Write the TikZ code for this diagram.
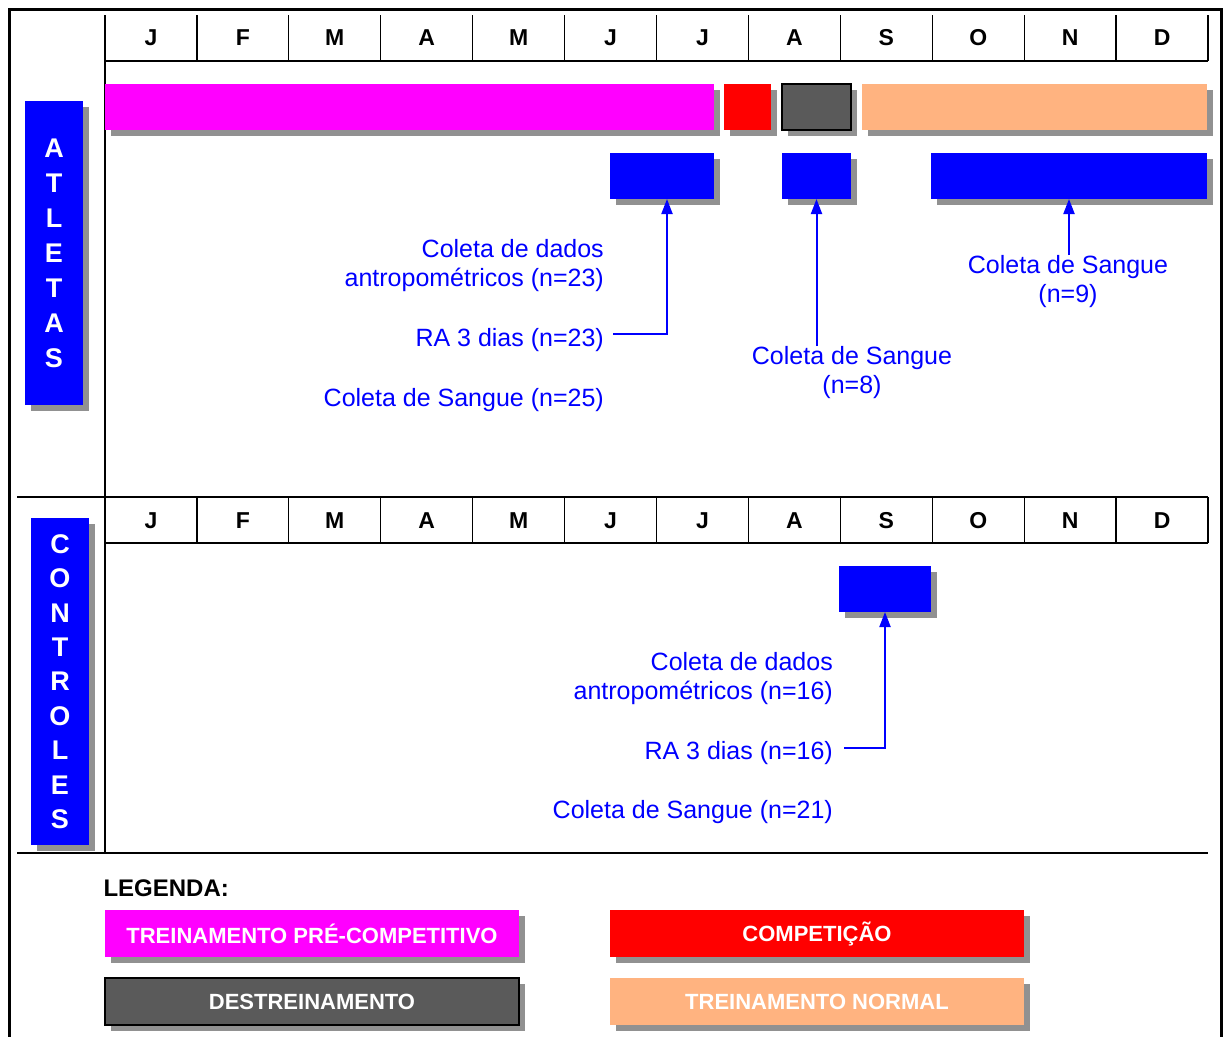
\documentclass[tikz,border=0pt]{standalone}
\usepackage{fontspec}
\setmainfont{Liberation Sans}
\usetikzlibrary{arrows.meta,shadows}
\definecolor{precompcol}{RGB}{255,0,255}
\definecolor{compcol}{RGB}{255,0,0}
\definecolor{destrcol}{RGB}{90,90,90}
\definecolor{normalcol}{RGB}{255,179,128}
\definecolor{coletacol}{RGB}{0,0,255}
\definecolor{shadecol}{RGB}{145,145,145}
% name, options, x1, y1, x2, y2
\newcommand{\phasebar}[6]{
  \node[bar, #2, minimum width={#5-#3}, minimum height={#6-#4}] (#1) at (#3,#4) {};
}
\tikzset{
  shadowed/.style = {drop shadow={shadow xshift=6pt, shadow yshift=-6pt,
                     fill=shadecol, opacity=1}},
  bar/.style      = {shadowed, anchor=north west, inner sep=0pt, outer sep=0pt},
  month/.style    = {font=\fontsize{23}{23}\selectfont\bfseries},
  sidebox/.style  = {shadowed, fill=coletacol, text=white, minimum width=58,
                     align=center, inner sep=0pt,
                     font=\fontsize{27}{35}\selectfont\bfseries},
  note/.style     = {text=coletacol, inner sep=0pt,
                     font=\fontsize{25}{29}\selectfont},
  legbox/.style   = {bar, minimum width=414, minimum height=47, text=white,
                     font=\fontsize{22}{22}\selectfont\bfseries},
  arr/.style      = {coletacol, line width=2pt,
                     -{Triangle[width=11pt,length=15pt]}},
  grid/.style     = {line width=1.3pt}
}

\begin{document}
\begin{tikzpicture}[x=1pt,y=-1pt]
  \useasboundingbox (0,0) rectangle (1226,1036);
  \draw[line width=3pt] (9,1045) -- (9,9) -- (1221,9) -- (1221,1045);

  % month headers
  \foreach \m [count=\i] in {J,F,M,A,M,J,J,A,S,O,N,D} {
    \node[month] (topm\i) at (105+91.92*\i-45.96,38) {\m};
    \node[month] (ctlm\i) at (105+91.92*\i-45.96,521) {\m};
  }
  \foreach \i in {0,...,12} {
    \draw[grid] (105+91.92*\i,15) -- (105+91.92*\i,61);
    \draw[grid] (105+91.92*\i,497) -- (105+91.92*\i,543);
  }
  \draw[grid] (105,61) -- (1208,61);
  \draw[grid] (105,15) -- (105,853);
  \draw[grid] (17,497) -- (1208,497);
  \draw[grid] (105,543) -- (1208,543);
  \draw[grid] (17,853) -- (1208,853);

  % group labels
  \node[sidebox, minimum height=304] (atletas) at (54,253) {A\\T\\L\\E\\T\\A\\S};
  \node[sidebox, minimum height=327, font=\fontsize{27}{34.4}\selectfont\bfseries]
    (controles) at (60,681.5) {C\\O\\N\\T\\R\\O\\L\\E\\S};

  % phases
  \phasebar{precomp}{fill=precompcol}{105}{84}{714}{130}
  \phasebar{comp}{fill=compcol}{724}{84}{771}{130}
  \phasebar{destr}{fill=destrcol, draw=black, line width=1.2pt}{782}{84}{851}{130}
  \phasebar{normal}{fill=normalcol}{862}{84}{1207}{130}
  \phasebar{colA}{fill=coletacol}{610}{153}{714}{199}
  \phasebar{colB}{fill=coletacol}{782}{153}{851}{199}
  \phasebar{colC}{fill=coletacol}{931}{153}{1207}{199}
  \phasebar{ctrl}{fill=coletacol}{839}{566}{931}{612}

  % notes
  \node[note, align=right, anchor=east] (dadosA) at (604,266)
    {Coleta de dados\\antropométricos (n=23)};
  \node[note, anchor=east] (raA) at (604,340) {RA 3 dias (n=23)};
  \node[note, anchor=east] (sangA) at (604,400) {Coleta de Sangue (n=25)};
  \node[note, align=center, anchor=north] (sangB) at (852,346) {Coleta de Sangue\\(n=8)};
  \node[note, align=center, anchor=north] (sangC) at (1068,255) {Coleta de Sangue\\(n=9)};
  \node[note, align=right, anchor=east] (dadosC) at (833,678.5)
    {Coleta de dados\\antropométricos (n=16)};
  \node[note, anchor=east] (raC) at (833,753) {RA 3 dias (n=16)};
  \node[note, anchor=east] (sangD) at (833,812) {Coleta de Sangue (n=21)};

  \coordinate (raAend) at (613,334);
  \coordinate (raCend) at (844,748);
  \draw[arr] (raAend) -| ([xshift=5pt]colA.south);
  \draw[arr] (colB.south |- sangB.north) -- (colB.south);
  \draw[arr] (colC.south |- sangC.north) -- (colC.south);
  \draw[arr] (raCend) -| (ctrl.south);

  % legend
  \node[anchor=west, font=\fontsize{24}{24}\selectfont\bfseries] (legenda) at (100,888) {LEGENDA:};
  \node[legbox, fill=precompcol] (legpre) at (105,910) {TREINAMENTO PRÉ-COMPETITIVO};
  \node[legbox, fill=compcol] (legcomp) at (610,910) {COMPETIÇÃO};
  \node[legbox, fill=destrcol, draw=black, line width=1.2pt] (legdestr) at (105,978) {DESTREINAMENTO};
  \node[legbox, fill=normalcol] (legnorm) at (610,978) {TREINAMENTO NORMAL};
\end{tikzpicture}
\end{document}
